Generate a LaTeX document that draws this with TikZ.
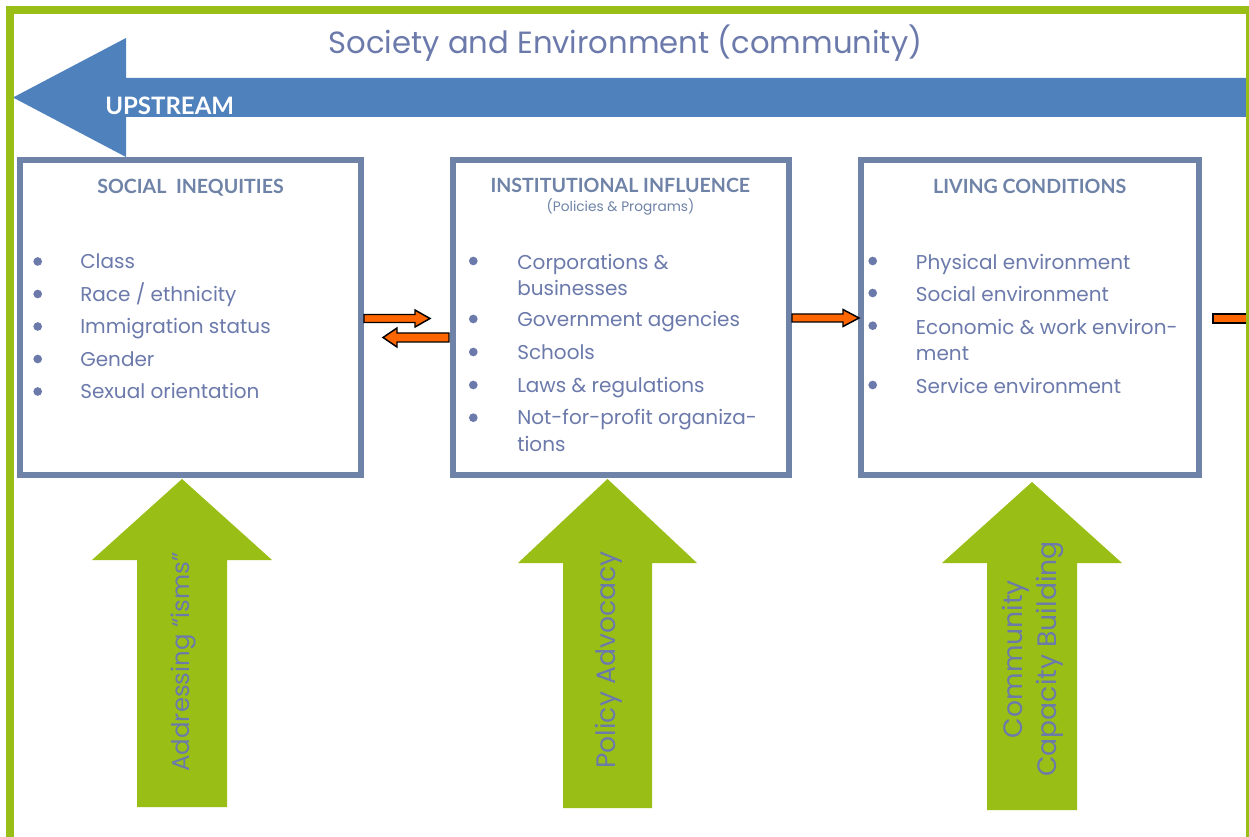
\documentclass[tikz,border=0pt]{standalone}
\usepackage{fontspec}
\setmainfont{Poppins}
\newfontfamily\headfont{Lato}
\definecolor{framegreen}{HTML}{99BE16}
\definecolor{upblue}{HTML}{4F81BD}
\definecolor{boxslate}{HTML}{6E83A7}
\definecolor{inkslate}{HTML}{6B7AAB}
\definecolor{flow}{HTML}{FF6600}
\tikzset{
  infobox/.style={draw=boxslate, line width=4.5pt, fill=white, inner sep=0pt},
  boxtitle/.style={anchor=base, inner sep=0pt, text=boxslate, font=\headfont\bfseries\fontsize{14.7}{17}\selectfont},
  boxsub/.style={anchor=base, inner sep=0pt, text=boxslate, font=\fontsize{10.3}{12}\selectfont},
  item/.style={anchor=base west, inner sep=0pt, text=inkslate, font=\fontsize{15}{18}\selectfont},
  dot/.style={circle, fill=inkslate, inner sep=0pt, minimum size=6.5pt},
  flowarrow/.style={fill=flow, draw=black, line width=1.1pt, line join=miter},
  lever/.style={fill=framegreen},
  levertext/.style={rotate=90, inner sep=0pt, text=inkslate, align=center, font=\fontsize{20}{25.5}\selectfont},
}
% block arrow pointing right: tail x, head x, tip x, centre y
\newcommand\flowright[4]{%
  \draw[flowarrow] (#1,#4-4) -- (#2,#4-4) -- (#2,#4-8.5) -- (#3,#4) -- (#2,#4+8.5) -- (#2,#4+4) -- (#1,#4+4) -- cycle;}
% block arrow pointing left: tail x, head x, tip x, centre y
\newcommand\flowleft[4]{%
  \draw[flowarrow] (#1,#4-4.5) -- (#2,#4-4.5) -- (#2,#4-9.5) -- (#3,#4) -- (#2,#4+9.5) -- (#2,#4+4.5) -- (#1,#4+4.5) -- cycle;}
\begin{document}
\begin{tikzpicture}[x=0.75pt,y=-0.75pt]
\useasboundingbox (0,0) rectangle (1249,837);
\fill[white] (0,0) rectangle (1249,837);

% heading
\node[anchor=base, inner sep=0pt, text=inkslate, font=\fontsize{23}{27}\selectfont] (heading) at (625.5,54) {Society and Environment (community)};

% upstream arrow
\fill[upblue] (13,97.5) -- (126,38) -- (126,78) -- (1250,78) -- (1250,117) -- (126,117) -- (126,157) -- cycle;
\node[anchor=base west, inner sep=0pt, text=white, font=\headfont\bfseries\fontsize{18}{20}\selectfont] (upstream) at (105,115) {UPSTREAM};

% three stages
\node[infobox, minimum width=255.75pt, minimum height=236.25pt] (ineq) at (190.5,317.5) {};
\node[infobox, minimum width=252pt, minimum height=236.25pt] (inst) at (621,318) {};
\node[infobox, minimum width=253.5pt, minimum height=236.25pt] (live) at (1030,318) {};

\node[boxtitle] (ineqtitle) at (190.5,193.3) {SOCIAL\ \ INEQUITIES};
\node[boxtitle] (insttitle) at (620.3,192.7) {INSTITUTIONAL INFLUENCE};
\node[boxsub] (instsub) at (620.5,211.7) {(Policies \& Programs)};
\node[boxtitle] (livetitle) at (1029.7,193.3) {LIVING CONDITIONS};

% social inequities list
\foreach \y [count=\i] in {261.5,294,326.5,359,391.5}{\node[dot] (ineqdot\i) at (37.7,\y) {};}
\node[item] (ineqitem1) at (80,269) {Class};
\node[item] (ineqitem2) at (80,301.5) {Race / ethnicity};
\node[item] (ineqitem3) at (80,334) {Immigration status};
\node[item] (ineqitem4) at (80,366.5) {Gender};
\node[item] (ineqitem5) at (80,399) {Sexual orientation};

% institutional list
\foreach \y [count=\i] in {261,319,352,385,417.7}{\node[dot] (instdot\i) at (473.3,\y) {};}
\node[item] (institem1) at (517,269.3) {Corporations \&};
\node[item] (institem1b) at (517,296) {businesses};
\node[item] (institem2) at (517,326.7) {Government agencies};
\node[item] (institem3) at (517,360) {Schools};
\node[item] (institem4) at (517,392.7) {Laws \& regulations};
\node[item] (institem5) at (517,425) {Not-for-profit organiza-};
\node[item] (institem5b) at (517,451.7) {tions};

% living conditions list
\foreach \y [count=\i] in {261,293,325.7,385}{\node[dot] (livedot\i) at (872.7,\y) {};}
\node[item] (liveitem1) at (915.7,269.3) {Physical environment};
\node[item] (liveitem2) at (915.7,301.7) {Social environment};
\node[item] (liveitem3) at (915.7,334.3) {Economic \& work environ-};
\node[item] (liveitem3b) at (915.7,361) {ment};
\node[item] (liveitem4) at (915.7,393.3) {Service environment};

% links between stages
\flowright{364}{415}{430}{318.5}
\flowleft{449}{397}{383}{337.5}
\flowright{792}{843}{859}{318}
\draw[flowarrow] (1213,314) -- (1252,314) -- (1252,323) -- (1213,323) -- cycle;

% levers for change
\fill[lever] (182,479) -- (272,560) -- (227,560) -- (227,807) -- (137,807) -- (137,560) -- (92,560) -- cycle;
\fill[lever] (607.5,479) -- (697,563) -- (652,563) -- (652,808) -- (563,808) -- (563,563) -- (518,563) -- cycle;
\fill[lever] (1032,482) -- (1122,563) -- (1077,563) -- (1077,810) -- (987,810) -- (987,563) -- (942,563) -- cycle;
\node[levertext, font=\fontsize{18.3}{22}\selectfont] (isms) at (184,662) {Addressing “isms”};
\node[levertext] (policy) at (609,660) {Policy Advocacy};
\node[levertext] (capacity) at (1033,659) {Community\\Capacity Building};

% outer frame
\draw[framegreen, line width=6pt, line cap=rect] (10,845) -- (10,10) -- (1249.5,10) -- (1249.5,845);
\end{tikzpicture}
\end{document}
